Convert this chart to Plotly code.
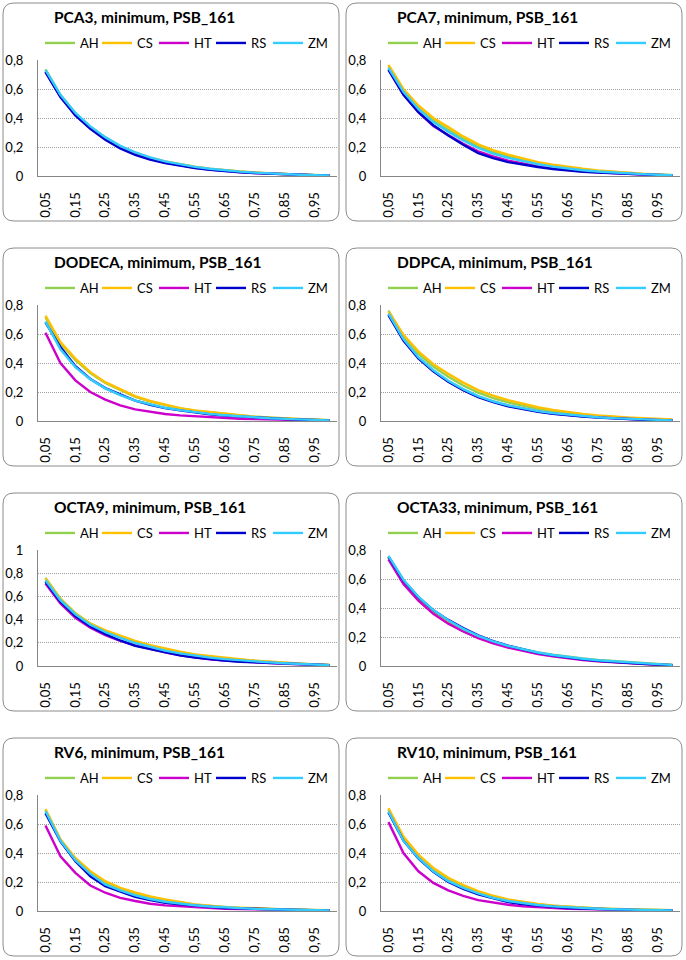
import plotly.graph_objects as go

# ---------------- data ----------------
thresholds = ["0,05", "0,10", "0,15", "0,20", "0,25", "0,30", "0,35", "0,40", "0,45", "0,50",
              "0,55", "0,60", "0,65", "0,70", "0,75", "0,80", "0,85", "0,90", "0,95", "1,00"]
tick_labels = ["0,05", "0,15", "0,25", "0,35", "0,45", "0,55", "0,65", "0,75", "0,85", "0,95"]
methods = ["AH", "CS", "HT", "RS", "ZM"]
panel_names = ["PCA3", "PCA7", "DODECA", "DDPCA", "OCTA9", "OCTA33", "RV6", "RV10"]
panel_ymax = [0.8, 0.8, 0.8, 0.8, 1.0, 0.8, 0.8, 0.8]

PCA3_AH = [0.735, 0.560, 0.432, 0.340, 0.265, 0.205, 0.160, 0.125, 0.099, 0.079, 0.062, 0.049, 0.039, 0.030, 0.023, 0.017, 0.013, 0.009, 0.006, 0.003]
PCA3_CS = [0.730, 0.555, 0.430, 0.338, 0.264, 0.206, 0.162, 0.127, 0.101, 0.081, 0.064, 0.051, 0.040, 0.031, 0.024, 0.018, 0.013, 0.009, 0.006, 0.003]
PCA3_HT = [0.720, 0.548, 0.420, 0.330, 0.255, 0.195, 0.150, 0.117, 0.092, 0.073, 0.057, 0.045, 0.035, 0.027, 0.021, 0.016, 0.012, 0.008, 0.005, 0.003]
PCA3_RS = [0.716, 0.544, 0.417, 0.326, 0.250, 0.190, 0.145, 0.113, 0.089, 0.070, 0.055, 0.043, 0.033, 0.026, 0.020, 0.015, 0.011, 0.008, 0.005, 0.003]
PCA3_ZM = [0.732, 0.560, 0.435, 0.342, 0.268, 0.208, 0.163, 0.128, 0.101, 0.080, 0.063, 0.050, 0.039, 0.030, 0.023, 0.017, 0.013, 0.009, 0.006, 0.003]

PCA7_AH = [0.757, 0.590, 0.472, 0.385, 0.318, 0.258, 0.205, 0.166, 0.135, 0.110, 0.089, 0.072, 0.057, 0.045, 0.035, 0.027, 0.020, 0.014, 0.010, 0.005]
PCA7_CS = [0.766, 0.600, 0.486, 0.400, 0.337, 0.273, 0.218, 0.178, 0.147, 0.119, 0.096, 0.078, 0.062, 0.050, 0.039, 0.030, 0.023, 0.016, 0.011, 0.006]
PCA7_HT = [0.735, 0.565, 0.440, 0.345, 0.283, 0.222, 0.170, 0.135, 0.106, 0.085, 0.067, 0.053, 0.041, 0.032, 0.025, 0.019, 0.014, 0.010, 0.007, 0.004]
PCA7_RS = [0.732, 0.560, 0.440, 0.350, 0.280, 0.215, 0.158, 0.123, 0.096, 0.077, 0.062, 0.048, 0.037, 0.029, 0.023, 0.018, 0.014, 0.010, 0.007, 0.004]
PCA7_ZM = [0.745, 0.580, 0.462, 0.372, 0.305, 0.245, 0.193, 0.155, 0.125, 0.101, 0.081, 0.065, 0.051, 0.040, 0.031, 0.024, 0.018, 0.013, 0.009, 0.005]

DODECA_AH = [0.715, 0.535, 0.420, 0.330, 0.262, 0.212, 0.167, 0.134, 0.108, 0.087, 0.071, 0.059, 0.048, 0.038, 0.030, 0.023, 0.018, 0.013, 0.009, 0.005]
DODECA_CS = [0.727, 0.545, 0.430, 0.337, 0.268, 0.218, 0.172, 0.138, 0.112, 0.089, 0.073, 0.062, 0.050, 0.039, 0.030, 0.023, 0.018, 0.014, 0.009, 0.005]
DODECA_HT = [0.608, 0.400, 0.280, 0.200, 0.147, 0.108, 0.080, 0.062, 0.048, 0.039, 0.032, 0.025, 0.020, 0.016, 0.013, 0.011, 0.009, 0.007, 0.005, 0.003]
DODECA_RS = [0.680, 0.510, 0.378, 0.290, 0.227, 0.181, 0.140, 0.112, 0.089, 0.073, 0.057, 0.046, 0.037, 0.030, 0.023, 0.018, 0.014, 0.010, 0.007, 0.004]
DODECA_ZM = [0.686, 0.495, 0.372, 0.288, 0.225, 0.178, 0.140, 0.113, 0.091, 0.075, 0.060, 0.049, 0.040, 0.032, 0.025, 0.019, 0.015, 0.011, 0.008, 0.004]

DDPCA_AH = [0.762, 0.585, 0.465, 0.375, 0.305, 0.245, 0.195, 0.158, 0.128, 0.104, 0.084, 0.068, 0.054, 0.043, 0.034, 0.026, 0.020, 0.015, 0.011, 0.007]
DDPCA_CS = [0.755, 0.595, 0.480, 0.392, 0.325, 0.265, 0.213, 0.175, 0.143, 0.117, 0.095, 0.077, 0.062, 0.049, 0.039, 0.030, 0.024, 0.019, 0.015, 0.011]
DDPCA_HT = [0.735, 0.560, 0.435, 0.345, 0.272, 0.215, 0.168, 0.133, 0.105, 0.083, 0.066, 0.052, 0.041, 0.032, 0.025, 0.019, 0.014, 0.010, 0.007, 0.004]
DDPCA_RS = [0.730, 0.555, 0.432, 0.342, 0.270, 0.212, 0.165, 0.130, 0.102, 0.080, 0.063, 0.050, 0.039, 0.030, 0.023, 0.017, 0.013, 0.009, 0.006, 0.003]
DDPCA_ZM = [0.740, 0.565, 0.440, 0.350, 0.278, 0.220, 0.172, 0.136, 0.108, 0.086, 0.068, 0.054, 0.043, 0.033, 0.026, 0.020, 0.015, 0.011, 0.007, 0.004]

OCTA9_AH = [0.760, 0.580, 0.455, 0.365, 0.305, 0.255, 0.210, 0.175, 0.145, 0.120, 0.097, 0.080, 0.066, 0.055, 0.044, 0.035, 0.027, 0.019, 0.013, 0.008]
OCTA9_CS = [0.755, 0.578, 0.452, 0.366, 0.308, 0.260, 0.216, 0.180, 0.150, 0.124, 0.100, 0.084, 0.069, 0.058, 0.046, 0.037, 0.029, 0.020, 0.014, 0.009]
OCTA9_HT = [0.712, 0.540, 0.415, 0.330, 0.265, 0.216, 0.179, 0.146, 0.117, 0.093, 0.073, 0.058, 0.046, 0.037, 0.031, 0.025, 0.019, 0.014, 0.011, 0.006]
OCTA9_RS = [0.726, 0.555, 0.430, 0.340, 0.275, 0.220, 0.173, 0.144, 0.115, 0.092, 0.072, 0.058, 0.046, 0.037, 0.032, 0.026, 0.020, 0.014, 0.012, 0.006]
OCTA9_ZM = [0.740, 0.568, 0.445, 0.355, 0.293, 0.242, 0.198, 0.163, 0.133, 0.109, 0.088, 0.072, 0.059, 0.048, 0.039, 0.031, 0.024, 0.017, 0.012, 0.007]

OCTA33_AH = [0.750, 0.590, 0.470, 0.380, 0.310, 0.252, 0.205, 0.168, 0.138, 0.114, 0.094, 0.078, 0.064, 0.052, 0.042, 0.034, 0.027, 0.020, 0.014, 0.008]
OCTA33_CS = [0.745, 0.575, 0.455, 0.365, 0.295, 0.240, 0.196, 0.160, 0.130, 0.106, 0.086, 0.069, 0.055, 0.044, 0.035, 0.027, 0.021, 0.015, 0.011, 0.007]
OCTA33_HT = [0.735, 0.565, 0.450, 0.360, 0.292, 0.238, 0.193, 0.157, 0.127, 0.102, 0.082, 0.066, 0.052, 0.041, 0.032, 0.025, 0.019, 0.013, 0.009, 0.005]
OCTA33_RS = [0.755, 0.590, 0.475, 0.385, 0.318, 0.262, 0.212, 0.172, 0.140, 0.113, 0.091, 0.073, 0.058, 0.046, 0.036, 0.028, 0.021, 0.015, 0.010, 0.006]
OCTA33_ZM = [0.760, 0.595, 0.478, 0.386, 0.315, 0.256, 0.208, 0.170, 0.139, 0.114, 0.093, 0.076, 0.062, 0.050, 0.040, 0.032, 0.025, 0.018, 0.013, 0.008]

RV6_AH = [0.697, 0.490, 0.355, 0.262, 0.196, 0.152, 0.120, 0.094, 0.074, 0.057, 0.043, 0.034, 0.026, 0.021, 0.017, 0.013, 0.010, 0.008, 0.006, 0.004]
RV6_CS = [0.704, 0.495, 0.366, 0.274, 0.206, 0.160, 0.128, 0.100, 0.080, 0.062, 0.046, 0.037, 0.027, 0.023, 0.018, 0.014, 0.011, 0.009, 0.007, 0.005]
RV6_HT = [0.590, 0.377, 0.263, 0.176, 0.126, 0.091, 0.069, 0.050, 0.039, 0.032, 0.025, 0.020, 0.016, 0.013, 0.011, 0.009, 0.007, 0.005, 0.004, 0.003]
RV6_RS = [0.674, 0.480, 0.343, 0.240, 0.171, 0.133, 0.098, 0.075, 0.057, 0.046, 0.037, 0.027, 0.021, 0.018, 0.014, 0.011, 0.009, 0.007, 0.005, 0.004]
RV6_ZM = [0.690, 0.485, 0.350, 0.256, 0.183, 0.142, 0.108, 0.083, 0.064, 0.050, 0.040, 0.031, 0.024, 0.019, 0.015, 0.012, 0.010, 0.008, 0.006, 0.004]

RV10_AH = [0.697, 0.500, 0.380, 0.288, 0.220, 0.170, 0.130, 0.100, 0.076, 0.059, 0.046, 0.036, 0.029, 0.023, 0.018, 0.014, 0.011, 0.009, 0.007, 0.005]
RV10_CS = [0.709, 0.514, 0.389, 0.297, 0.229, 0.178, 0.137, 0.105, 0.080, 0.062, 0.048, 0.037, 0.029, 0.023, 0.018, 0.014, 0.011, 0.009, 0.007, 0.005]
RV10_HT = [0.613, 0.400, 0.274, 0.194, 0.142, 0.105, 0.075, 0.057, 0.043, 0.032, 0.025, 0.020, 0.016, 0.013, 0.010, 0.008, 0.006, 0.005, 0.004, 0.003]
RV10_RS = [0.680, 0.485, 0.362, 0.270, 0.200, 0.152, 0.114, 0.087, 0.062, 0.046, 0.037, 0.027, 0.021, 0.017, 0.013, 0.010, 0.008, 0.006, 0.005, 0.004]
RV10_ZM = [0.686, 0.485, 0.366, 0.274, 0.206, 0.160, 0.121, 0.091, 0.069, 0.053, 0.041, 0.032, 0.025, 0.020, 0.016, 0.012, 0.010, 0.008, 0.006, 0.004]

panel_data = {
    "PCA3": [PCA3_AH, PCA3_CS, PCA3_HT, PCA3_RS, PCA3_ZM],
    "PCA7": [PCA7_AH, PCA7_CS, PCA7_HT, PCA7_RS, PCA7_ZM],
    "DODECA": [DODECA_AH, DODECA_CS, DODECA_HT, DODECA_RS, DODECA_ZM],
    "DDPCA": [DDPCA_AH, DDPCA_CS, DDPCA_HT, DDPCA_RS, DDPCA_ZM],
    "OCTA9": [OCTA9_AH, OCTA9_CS, OCTA9_HT, OCTA9_RS, OCTA9_ZM],
    "OCTA33": [OCTA33_AH, OCTA33_CS, OCTA33_HT, OCTA33_RS, OCTA33_ZM],
    "RV6": [RV6_AH, RV6_CS, RV6_HT, RV6_RS, RV6_ZM],
    "RV10": [RV10_AH, RV10_CS, RV10_HT, RV10_RS, RV10_ZM],
}

# ---------------- style ----------------
W, H = 686, 960
FONT = "Lato"
colors = {"AH": "#92D050", "CS": "#FFC000", "HT": "#CC00CC", "RS": "#0000CC", "ZM": "#33CCFF"}
BOX_COLOR = "#8c8c8c"
AXIS_COLOR = "#868686"
GRID_COLOR = "#a0a0a0"

fig = go.Figure()
layout = dict(
    width=W, height=H, margin=dict(l=0, r=0, t=0, b=0, pad=0, autoexpand=False),
    paper_bgcolor="white", plot_bgcolor="white",
    separators=", ", showlegend=True,
    font=dict(family=FONT, size=13, color="#000000"),
)
shapes = []
annotations = []


def px_x(v):
    return v / W


def px_y(v):
    return 1 - v / H


for k, name in enumerate(panel_names):
    r, c = divmod(k, 2)
    x0 = 3 + c * 343
    y0 = 3 + r * 245
    bw, bh, rad = 336, 218, 11
    sfx = "" if k == 0 else str(k + 1)
    leg = "legend" if k == 0 else f"legend{k + 1}"

    # rounded frame
    X = px_x
    Y = px_y
    path = (f"M{X(x0 + rad)},{Y(y0)} L{X(x0 + bw - rad)},{Y(y0)} "
            f"Q{X(x0 + bw)},{Y(y0)} {X(x0 + bw)},{Y(y0 + rad)} "
            f"L{X(x0 + bw)},{Y(y0 + bh - rad)} "
            f"Q{X(x0 + bw)},{Y(y0 + bh)} {X(x0 + bw - rad)},{Y(y0 + bh)} "
            f"L{X(x0 + rad)},{Y(y0 + bh)} "
            f"Q{X(x0)},{Y(y0 + bh)} {X(x0)},{Y(y0 + bh - rad)} "
            f"L{X(x0)},{Y(y0 + rad)} "
            f"Q{X(x0)},{Y(y0)} {X(x0 + rad)},{Y(y0)} Z")
    shapes.append(dict(type="path", xref="paper", yref="paper", path=path,
                       line=dict(color=BOX_COLOR, width=1), layer="below"))

    # title
    annotations.append(dict(
        text=f"{name}, minimum, PSB_161", xref="paper", yref="paper",
        x=px_x(x0 + 49), y=px_y(y0 + 14), xanchor="left", yanchor="middle",
        showarrow=False, font=dict(family=FONT, size=15.5, color="#000000", weight="bold")))

    # axes
    layout[f"xaxis{sfx}"] = dict(
        domain=[px_x(x0 + 35), px_x(x0 + 334)], anchor=f"y{sfx}",
        type="category", categoryorder="array", categoryarray=thresholds,
        range=[-0.5, len(thresholds) - 0.5], automargin=False,
        tickmode="array", tickvals=tick_labels, ticktext=tick_labels,
        tickangle=-90, ticks="", ticklabelstandoff=10,
        showgrid=False, showline=True, linecolor=AXIS_COLOR, linewidth=1,
        zeroline=False, fixedrange=True,
        tickfont=dict(family=FONT, size=13, color="#000000"))
    layout[f"yaxis{sfx}"] = dict(
        domain=[px_y(y0 + 173), px_y(y0 + 57)], anchor=f"x{sfx}",
        range=[0, panel_ymax[k]], dtick=0.2, tick0=0, ticks="", ticklabelstandoff=11,
        automargin=False,
        showgrid=True, gridcolor=GRID_COLOR, gridwidth=1, griddash="1px,1px",
        showline=True, linecolor=AXIS_COLOR, linewidth=1, zeroline=False,
        fixedrange=True,
        tickfont=dict(family=FONT, size=13, color="#000000"))

    # legend
    layout[leg] = dict(
        orientation="h", x=px_x(x0 + 37), y=px_y(y0 + 40),
        xanchor="left", yanchor="middle", bgcolor="rgba(0,0,0,0)",
        font=dict(family=FONT, size=13, color="#000000"),
        entrywidth=12, itemclick=False, itemdoubleclick=False)

    for m, vals in zip(methods, panel_data[name]):
        fig.add_trace(go.Scatter(
            x=thresholds, y=vals, mode="lines", name=m,
            line=dict(color=colors[m], width=2.4),
            xaxis=f"x{sfx}", yaxis=f"y{sfx}", legend=leg,
            hoverinfo="skip"))
    # blank legend spacer so the last legend label is not clipped
    fig.add_trace(go.Scatter(
        x=[None], y=[None], mode="lines", name=" ", line=dict(width=0, color="rgba(0,0,0,0)"),
        xaxis=f"x{sfx}", yaxis=f"y{sfx}", legend=leg, hoverinfo="skip", showlegend=True))

layout["shapes"] = shapes
layout["annotations"] = annotations
fig.update_layout(**layout)
fig.write_html("out.html")
